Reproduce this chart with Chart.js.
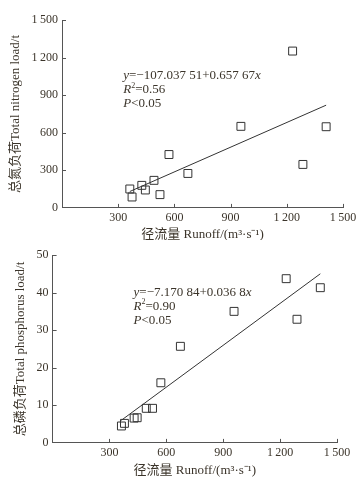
<!DOCTYPE html>
<html>
<head>
<meta charset="utf-8">
<script src="https://cdn.jsdelivr.net/npm/chart.js@4.4.1/dist/chart.umd.min.js"></script>
<style>
  html, body { margin: 0; padding: 0; background: #fff; }
  canvas { display: block; }
</style>
</head>
<body>
<canvas id="tn" width="363" height="240"></canvas>
<canvas id="tp" width="363" height="240"></canvas>
<script>
// runoff (m3/s) for each sample
var runoffN = [362, 374, 426, 445, 491, 523, 571, 672, 955, 1231, 1286, 1410];
var nitrogen = [151, 87, 180, 143, 220, 106, 426, 275, 651, 1252, 347, 648];
var runoffP = [363, 379, 430, 446, 494, 527, 571, 674, 957, 1232, 1289, 1412];
var phosphorus = [4.5, 5.2, 6.6, 6.7, 9.2, 9.2, 16.0, 25.7, 35.0, 43.7, 32.9, 41.3];
// fitted line end points
var fitXN = [362, 1410];
var fitYN = [131, 820];
var fitXP = [362, 1412];
var fitYP = [6.0, 45.0];
var xTicks = [300, 600, 900, 1200, 1500];

var ink = "#3b342a";
var axisCol = "#555";
var serif = "'Liberation Serif', 'Noto Sans CJK SC', serif";

function fmt(v){
  // thousands with a thin space, like 1 500
  var s = String(v);
  if (s.length > 3) s = s.slice(0, s.length-3) + "\u2009" + s.slice(-3);
  return s;
}

// short tick marks drawn inside the axes
const insideTicks = {
  id: "insideTicks",
  afterDraw(chart){
    const ctx = chart.ctx, a = chart.chartArea, xs = chart.scales.x, ys = chart.scales.y;
    ctx.save();
    ctx.strokeStyle = axisCol;
    ctx.lineWidth = 1;
    ctx.beginPath();
    xs.ticks.forEach(t => {
      if (t.value == 0) return;
      const px = Math.round(xs.getPixelForValue(t.value)) + 0.5;
      ctx.moveTo(px, a.bottom); ctx.lineTo(px, a.bottom - 4);
    });
    ys.ticks.forEach(t => {
      if (t.value == 0) return;
      const py = Math.round(ys.getPixelForValue(t.value)) + 0.5;
      ctx.moveTo(a.left, py); ctx.lineTo(a.left + 4, py);
    });
    ctx.stroke();
    ctx.restore();
  }
};

// regression text: runs of [text, italic, superscript]
const eqText = {
  id: "eqText",
  afterDraw(chart, args, opts){
    if (!opts.lines) return;
    const ctx = chart.ctx;
    let x0 = chart.scales.x.getPixelForValue(opts.x);
    let y = chart.scales.y.getPixelForValue(opts.y);
    ctx.save();
    ctx.fillStyle = ink;
    ctx.textBaseline = "middle";
    opts.lines.forEach(runs => {
      let x = x0;
      runs.forEach(r => {
        const size = r[2] ? 8 : 13;
        ctx.font = (r[1] ? "italic " : "") + size + "px " + serif;
        ctx.fillText(r[0], x, r[2] ? y - 4 : y);
        x += ctx.measureText(r[0]).width;
      });
      y += 14;
    });
    ctx.restore();
  }
};

function makeChart(id, xs, ys, fx, fy, yMax, yStep, yTitle, eq, pad, titleGap){
  return new Chart(id, {
    type: "scatter",
    data: {
      datasets: [{
        data: xs.map((v, i) => ({x: v, y: ys[i]})),
        pointStyle: "rect",
        pointRadius: 5.6,
        pointBorderWidth: 1,
        pointBorderColor: "#333",
        pointBackgroundColor: "rgba(0,0,0,0)"
      }, {
        type: "line",
        data: fx.map((v, i) => ({x: v, y: fy[i]})),
        borderColor: "#333",
        borderWidth: 1,
        pointRadius: 0,
        fill: false
      }]
    },
    options: {
      responsive: false,
      animation: false,
      layout: { padding: pad },
      plugins: {
        legend: { display: false },
        tooltip: { enabled: false },
        eqText: eq
      },
      scales: {
        x: {
          type: "linear", min: 0, max: 1500,
          afterBuildTicks: s => { s.ticks = [0].concat(xTicks).map(v => ({value: v})); },
          grid: { display: false, drawTicks: false },
          border: { display: true, color: axisCol, width: 1 },
          ticks: {
            color: ink, padding: 3,
            font: { family: serif, size: 12 },
            callback: v => v == 0 ? "" : fmt(v)
          },
          title: {
            display: true, text: "径流量 Runoff/(m³·s⁻¹)", color: ink,
            font: { family: serif, size: 13, lineHeight: 0.9 },
            padding: { top: titleGap, bottom: 0 }
          }
        },
        y: {
          type: "linear", min: 0, max: yMax,
          ticks: {
            stepSize: yStep, color: ink, padding: 4,
            font: { family: serif, size: 12 },
            callback: v => fmt(v)
          },
          grid: { display: false, drawTicks: false },
          border: { display: true, color: axisCol, width: 1 },
          title: {
            display: true, text: yTitle, color: ink,
            font: { family: serif, size: 13 }, padding: { top: 0, bottom: 4 }
          }
        }
      }
    },
    plugins: [insideTicks, eqText]
  });
}

makeChart("tn", runoffN, nitrogen, fitXN, fitYN, 1500, 300,
  "总氮负荷Total nitrogen load/t",
  { x: 327, y: 1053, lines: [
    [["y", true], ["=\u2212107.037 51+0.657 67", false], ["x", true]],
    [["R", true], ["2", false, true], ["=0.56", false]],
    [["P", true], ["<0.05", false]]
  ]},
  { left: 8, right: 20, top: 20, bottom: 0 }, 0);

makeChart("tp", runoffP, phosphorus, fitXP, fitYP, 50, 10,
  "总磷负荷Total phosphorus load/t",
  { x: 427, y: 40.1, lines: [
    [["y", true], ["=\u22127.170 84+0.036 8", false], ["x", true]],
    [["R", true], ["2", false, true], ["=0.90", false]],
    [["P", true], ["<0.05", false]]
  ]},
  { left: 13, right: 26, top: 15, bottom: 4 }, 1);
</script>
</body>
</html>
